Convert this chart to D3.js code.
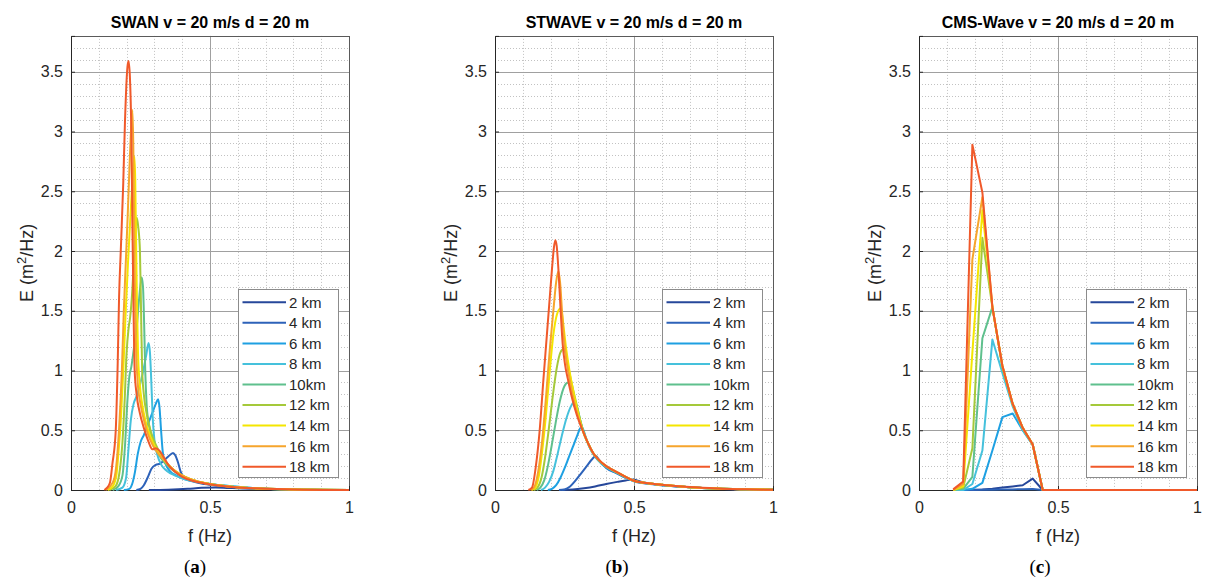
<!DOCTYPE html>
<html><head><meta charset="utf-8">
<script src="https://cdn.jsdelivr.net/npm/d3@7/dist/d3.min.js"></script>
<style>body{margin:0;background:#fff;}svg{display:block;}</style>
</head><body>
<svg id="chart" width="1207" height="578"></svg>
<script>
// ---------- data ----------
const seriesNames = ["2 km","4 km","6 km","8 km","10km","12 km","14 km","16 km","18 km"];
const panelTitles = ["SWAN v = 20 m/s d = 20 m","STWAVE v = 20 m/s d = 20 m","CMS-Wave v = 20 m/s d = 20 m"];
const panelLetters = ["a","b","c"];
const xTicks = [0, 0.5, 1];
const yTicks = [0, 0.5, 1, 1.5, 2, 2.5, 3, 3.5];
const xLabel = "f (Hz)";

// SWAN: [f, E]
const swan2 = [[0.28,0],[0.35,0.003],[0.42,0.01],[0.47,0.018],[0.52,0.02],[0.58,0.016],[0.66,0.01],[0.78,0.004],[1,0]];
const swan4 = [[0.235,0],[0.25,0.01],[0.262,0.04],[0.275,0.1],[0.29,0.18],[0.305,0.21],[0.32,0.22],[0.335,0.25],[0.35,0.28],[0.367,0.31],[0.375,0.29],[0.385,0.23],[0.395,0.15],[0.41,0.1],[0.44,0.07],[0.48,0.05],[0.53,0.035],[0.6,0.02],[0.7,0.01],[0.8,0.004],[1,0]];
const swan6 = [[0.19,0],[0.21,0.01],[0.22,0.05],[0.23,0.15],[0.24,0.3],[0.25,0.4],[0.262,0.46],[0.275,0.54],[0.29,0.63],[0.305,0.72],[0.313,0.76],[0.318,0.7],[0.324,0.5],[0.33,0.32],[0.34,0.22],[0.355,0.16],[0.38,0.12],[0.41,0.09],[0.45,0.07],[0.5,0.05],[0.55,0.037],[0.62,0.022],[0.7,0.011],[0.8,0.005],[1,0]];
const swan8 = [[0.162,0],[0.185,0.02],[0.198,0.1],[0.207,0.35],[0.215,0.58],[0.225,0.72],[0.235,0.78],[0.248,0.88],[0.26,1.0],[0.27,1.12],[0.279,1.23],[0.284,1.15],[0.289,0.9],[0.294,0.6],[0.3,0.42],[0.31,0.3],[0.325,0.21],[0.345,0.16],[0.375,0.12],[0.41,0.09],[0.45,0.07],[0.5,0.05],[0.55,0.037],[0.62,0.022],[0.7,0.011],[0.8,0.005],[1,0]];
const swan10 = [[0.15,0],[0.17,0.03],[0.185,0.12],[0.195,0.4],[0.203,0.75],[0.21,0.95],[0.217,1.03],[0.226,1.18],[0.236,1.35],[0.245,1.6],[0.254,1.78],[0.259,1.7],[0.263,1.4],[0.267,1.0],[0.272,0.72],[0.28,0.55],[0.295,0.42],[0.315,0.3],[0.34,0.22],[0.37,0.16],[0.4,0.12],[0.44,0.08],[0.5,0.05],[0.58,0.027],[0.68,0.012],[0.8,0.005],[1,0]];
const swan12 = [[0.138,0],[0.16,0.03],[0.174,0.14],[0.185,0.4],[0.193,0.75],[0.2,1.15],[0.207,1.35],[0.213,1.45],[0.22,1.65],[0.228,2.0],[0.236,2.28],[0.242,2.2],[0.248,2.0],[0.252,1.5],[0.256,1.0],[0.262,0.8],[0.272,0.64],[0.287,0.49],[0.305,0.38],[0.325,0.29],[0.35,0.21],[0.38,0.15],[0.41,0.11],[0.45,0.075],[0.5,0.05],[0.58,0.027],[0.68,0.012],[0.8,0.005],[1,0]];
const swan14 = [[0.132,0],[0.15,0.03],[0.163,0.12],[0.172,0.35],[0.18,0.62],[0.188,1.0],[0.196,1.45],[0.205,1.9],[0.214,2.3],[0.222,2.62],[0.228,2.79],[0.231,2.6],[0.234,2.1],[0.237,1.6],[0.241,1.15],[0.247,0.9],[0.256,0.72],[0.27,0.56],[0.287,0.44],[0.305,0.35],[0.325,0.28],[0.35,0.21],[0.38,0.15],[0.41,0.11],[0.45,0.075],[0.5,0.05],[0.58,0.027],[0.68,0.012],[0.8,0.005],[1,0]];
const swan16 = [[0.126,0],[0.14,0.03],[0.155,0.09],[0.165,0.25],[0.175,0.6],[0.183,1.0],[0.19,1.5],[0.197,1.9],[0.204,2.3],[0.212,2.8],[0.218,3.1],[0.221,3.18],[0.224,2.9],[0.227,2.3],[0.23,1.7],[0.234,1.2],[0.24,0.9],[0.25,0.72],[0.263,0.58],[0.278,0.46],[0.295,0.37],[0.315,0.3],[0.335,0.25],[0.355,0.2],[0.38,0.15],[0.41,0.11],[0.45,0.075],[0.5,0.05],[0.58,0.027],[0.68,0.012],[0.8,0.005],[1,0]];
const swan18 = [[0.12,0],[0.13,0.02],[0.14,0.06],[0.149,0.22],[0.161,0.5],[0.168,1.06],[0.173,1.62],[0.179,2.0],[0.188,2.57],[0.194,3.07],[0.203,3.54],[0.207,3.59],[0.212,3.45],[0.217,3.0],[0.221,2.2],[0.225,1.5],[0.229,1.0],[0.236,0.8],[0.248,0.64],[0.262,0.52],[0.278,0.41],[0.293,0.34],[0.305,0.35],[0.318,0.33],[0.332,0.28],[0.35,0.21],[0.375,0.15],[0.4,0.11],[0.44,0.075],[0.48,0.055],[0.56,0.03],[0.66,0.014],[0.8,0.005],[1,0]];

// STWAVE: [f, E]
const stw2 = [[0.24,0],[0.28,0.004],[0.32,0.015],[0.36,0.03],[0.4,0.05],[0.44,0.068],[0.47,0.08],[0.497,0.088],[0.51,0.08],[0.53,0.066],[0.56,0.054],[0.62,0.037],[0.7,0.022],[0.8,0.011],[0.9,0.005],[1,0.002]];
const stw4 = [[0.23,0],[0.25,0.005],[0.27,0.03],[0.29,0.08],[0.31,0.14],[0.33,0.2],[0.35,0.26],[0.363,0.285],[0.372,0.26],[0.385,0.22],[0.4,0.185],[0.438,0.14],[0.47,0.103],[0.5,0.073],[0.558,0.051],[0.62,0.036],[0.7,0.022],[0.8,0.011],[0.9,0.005],[1,0.002]];
const stw6 = [[0.19,0],[0.205,0.01],[0.22,0.04],[0.235,0.1],[0.25,0.18],[0.265,0.27],[0.28,0.36],[0.295,0.45],[0.311,0.53],[0.318,0.5],[0.328,0.43],[0.34,0.36],[0.355,0.295],[0.37,0.25],[0.4,0.188],[0.438,0.142],[0.47,0.104],[0.5,0.074],[0.558,0.052],[0.62,0.037],[0.7,0.023],[0.8,0.012],[0.9,0.005],[1,0.002]];
const stw8 = [[0.165,0],[0.18,0.02],[0.195,0.07],[0.21,0.16],[0.225,0.3],[0.24,0.45],[0.257,0.6],[0.273,0.7],[0.287,0.74],[0.293,0.71],[0.3,0.65],[0.31,0.55],[0.32,0.47],[0.335,0.385],[0.353,0.305],[0.37,0.255],[0.4,0.195],[0.438,0.147],[0.47,0.107],[0.5,0.076],[0.558,0.053],[0.62,0.038],[0.7,0.024],[0.8,0.012],[0.9,0.006],[1,0.002]];
const stw10 = [[0.15,0],[0.163,0.02],[0.177,0.08],[0.19,0.2],[0.203,0.36],[0.218,0.56],[0.233,0.74],[0.25,0.87],[0.263,0.9],[0.27,0.87],[0.279,0.81],[0.29,0.72],[0.302,0.62],[0.317,0.5],[0.335,0.39],[0.353,0.31],[0.37,0.258],[0.4,0.198],[0.438,0.148],[0.47,0.108],[0.5,0.077],[0.558,0.054],[0.62,0.039],[0.7,0.024],[0.8,0.012],[0.9,0.006],[1,0.002]];
const stw12 = [[0.14,0],[0.153,0.02],[0.167,0.1],[0.18,0.27],[0.193,0.5],[0.207,0.77],[0.222,1.02],[0.235,1.15],[0.247,1.18],[0.253,1.15],[0.259,1.09],[0.267,0.99],[0.277,0.88],[0.288,0.77],[0.3,0.65],[0.316,0.5],[0.335,0.39],[0.353,0.31],[0.37,0.258],[0.4,0.198],[0.438,0.149],[0.47,0.109],[0.5,0.077],[0.558,0.054],[0.62,0.039],[0.7,0.024],[0.8,0.012],[0.9,0.006],[1,0.002]];
const stw14 = [[0.133,0],[0.145,0.02],[0.158,0.12],[0.17,0.33],[0.183,0.62],[0.197,1.0],[0.21,1.3],[0.223,1.47],[0.236,1.52],[0.242,1.46],[0.248,1.34],[0.255,1.2],[0.263,1.07],[0.273,0.93],[0.284,0.8],[0.298,0.65],[0.315,0.5],[0.335,0.39],[0.353,0.31],[0.37,0.259],[0.4,0.199],[0.438,0.15],[0.47,0.11],[0.5,0.077],[0.558,0.054],[0.62,0.039],[0.7,0.024],[0.8,0.012],[0.9,0.006],[1,0.002]];
const stw16 = [[0.128,0],[0.14,0.02],[0.155,0.15],[0.17,0.42],[0.185,0.82],[0.198,1.2],[0.21,1.5],[0.22,1.74],[0.228,1.83],[0.234,1.74],[0.241,1.5],[0.248,1.27],[0.256,1.1],[0.266,0.96],[0.279,0.8],[0.296,0.64],[0.315,0.5],[0.335,0.39],[0.353,0.31],[0.37,0.26],[0.4,0.2],[0.438,0.15],[0.47,0.11],[0.5,0.077],[0.558,0.054],[0.62,0.039],[0.7,0.024],[0.8,0.012],[0.9,0.006],[1,0.002]];
const stw18 = [[0.12,0],[0.133,0.02],[0.147,0.2],[0.16,0.48],[0.174,0.92],[0.185,1.25],[0.195,1.55],[0.205,1.85],[0.212,2.03],[0.217,2.09],[0.222,2.04],[0.228,1.85],[0.235,1.55],[0.2435,1.22],[0.252,1.05],[0.262,0.93],[0.276,0.78],[0.294,0.63],[0.315,0.5],[0.335,0.39],[0.353,0.31],[0.37,0.26],[0.4,0.2],[0.438,0.15],[0.47,0.11],[0.5,0.078],[0.558,0.055],[0.62,0.04],[0.7,0.025],[0.8,0.013],[0.9,0.006],[1,0.002]];

// CMS-Wave: discrete frequencies, values per series
const cmsFreq = [0.123,0.159,0.192,0.228,0.264,0.300,0.337,0.373,0.409,0.445,1.0];
const cms2  = [0,0,0.002,0.005,0.01,0.02,0.03,0.04,0.095,0,0];
const cms4  = [0,0,0.001,0.002,0.003,0.004,0.005,0.006,0.008,0,0];
const cms6  = [0,0,0.01,0.06,0.33,0.61,0.64,0.5,0.38,0,0];
const cms8  = [0,0,0.05,0.33,1.26,0.98,0.7,0.5,0.38,0,0];
const cms10 = [0,0.01,0.11,1.27,1.53,1.03,0.72,0.52,0.38,0,0];
const cms12 = [0,0.02,0.35,2.11,1.53,1.03,0.72,0.52,0.38,0,0];
const cms14 = [0,0.03,1.15,2.34,1.53,1.04,0.72,0.52,0.38,0,0];
const cms16 = [0,0.05,1.93,2.45,1.53,1.04,0.72,0.52,0.38,0,0];
const cms18 = [0.005,0.07,2.89,2.49,1.53,1.04,0.72,0.52,0.38,0,0];

const swanSeries = [swan2,swan4,swan6,swan8,swan10,swan12,swan14,swan16,swan18];
const stwSeries = [stw2,stw4,stw6,stw8,stw10,stw12,stw14,stw16,stw18];
const cmsSeries = [cms2,cms4,cms6,cms8,cms10,cms12,cms14,cms16,cms18].map(v => v.map((e,i) => [cmsFreq[i], e]));

// ---------- styles ----------
const colors = ["#26479a","#2d62b9","#1ea0e2","#45c1dc","#5fc08d","#a5c93a","#f4e600","#f6a52c","#f0592a"];
const font = "'Liberation Sans', Arial, Helvetica, sans-serif";

const svg = d3.select("#chart");
svg.append("rect").attr("width",1207).attr("height",578).attr("fill","#fff");

const panelLefts = [71, 495, 919];
const pw = 278, plotTop = 35.9, plotBottom = 490;
const letterX = [195, 617, 1040];
const panels = [
  {data: swanSeries, curve: d3.curveMonotoneX},
  {data: stwSeries, curve: d3.curveMonotoneX},
  {data: cmsSeries, curve: d3.curveLinear}
];

panels.forEach((p, pi) => {
  const L = panelLefts[pi];
  const x = d3.scaleLinear().domain([0,1]).range([L, L+pw]);
  const y = d3.scaleLinear().domain([0,3.8]).range([plotBottom, plotTop]);
  const g = svg.append("g");

  // minor grid
  const xMinor = d3.range(1,10).map(i => i/10).filter(v => Math.abs(v-0.5) > 1e-6);
  const yMinor = d3.range(1,38).map(i => i/10).filter(v => Math.abs(v*2 - Math.round(v*2)) > 1e-6);
  g.selectAll(".xm").data(xMinor).join("line")
    .attr("x1", d => Math.round(x(d))+0.5).attr("x2", d => Math.round(x(d))+0.5)
    .attr("y1", plotTop).attr("y2", plotBottom)
    .attr("stroke","#c2c2c2").attr("stroke-width",1).attr("stroke-dasharray","1,2");
  g.selectAll(".ym").data(yMinor).join("line")
    .attr("y1", d => Math.round(y(d))+0.5).attr("y2", d => Math.round(y(d))+0.5)
    .attr("x1", L).attr("x2", L+pw)
    .attr("stroke","#c2c2c2").attr("stroke-width",1).attr("stroke-dasharray","1,2");
  // major grid
  g.selectAll(".xg").data(xTicks.slice(1,-1)).join("line")
    .attr("x1", d => Math.round(x(d))+0.5).attr("x2", d => Math.round(x(d))+0.5)
    .attr("y1", plotTop).attr("y2", plotBottom).attr("stroke","#a0a0a0");
  g.selectAll(".yg").data(yTicks.slice(1)).join("line")
    .attr("y1", d => Math.round(y(d))+0.5).attr("y2", d => Math.round(y(d))+0.5)
    .attr("x1", L).attr("x2", L+pw).attr("stroke","#a0a0a0");

  // box
  g.append("rect").attr("x", L+0.5).attr("y", Math.round(plotTop)+0.5)
    .attr("width", pw).attr("height", plotBottom - Math.round(plotTop))
    .attr("fill","none").attr("stroke","#5a5a5a");

  // axes (ticks + labels)
  const xAxis = d3.axisBottom(x).tickValues(xTicks).tickSize(-4).tickPadding(12).tickFormat(d3.format("~g"));
  const yAxis = d3.axisLeft(y).tickValues(yTicks).tickSize(-4).tickPadding(8).tickFormat(d3.format("~g"));
  const gx = g.append("g").attr("transform", `translate(0,${plotBottom})`).call(xAxis);
  const gy = g.append("g").attr("transform", `translate(${L},0)`).call(yAxis);
  [gx, gy].forEach(a => {
    a.select(".domain").attr("stroke","#262626");
    a.selectAll(".tick line").attr("stroke","#262626");
    a.selectAll(".tick text").attr("fill","#262626").style("font-family", font).style("font-size","16px");
  });

  // lines
  const line = d3.line().x(d => x(d[0])).y(d => y(d[1])).curve(p.curve);
  g.selectAll(".series").data(p.data).join("path")
    .attr("d", line).attr("fill","none")
    .attr("stroke", (d,i) => colors[i]).attr("stroke-width", 2)
    .attr("stroke-linejoin","round");

  // title
  g.append("text").attr("x", L+pw/2).attr("y", 28).attr("text-anchor","middle")
    .style("font-family", font).style("font-size","16px").style("font-weight","bold")
    .attr("fill","#000").text(panelTitles[pi]);
  // x label
  g.append("text").attr("x", L+pw/2).attr("y", 542).attr("text-anchor","middle")
    .style("font-family", font).style("font-size","18px").attr("fill","#262626").text(xLabel);
  // y label
  const yl = g.append("text").attr("transform", `translate(${L-38},${(plotTop+plotBottom)/2}) rotate(-90)`)
    .attr("text-anchor","middle").style("font-family", font).style("font-size","18px").attr("fill","#262626");
  yl.append("tspan").text("E (m");
  yl.append("tspan").attr("dy","-7").style("font-size","13px").text("2");
  yl.append("tspan").attr("dy","7").text("/Hz)");

  // legend
  const lx = L + 167, ly = 289;
  const lg = g.append("g");
  lg.append("rect").attr("x", lx+0.5).attr("y", ly+0.5).attr("width", 100).attr("height", 188)
    .attr("fill","#fff").attr("stroke","#8c8c8c");
  seriesNames.forEach((n, i) => {
    const yy = 302.3 + i*20.55;
    lg.append("line").attr("x1", lx+4.5).attr("x2", lx+48).attr("y1", yy).attr("y2", yy)
      .attr("stroke", colors[i]).attr("stroke-width", 2);
    lg.append("text").attr("x", lx+51).attr("y", yy).attr("dy","0.36em")
      .style("font-family", font).style("font-size","15px").attr("fill","#262626").text(n);
  });

  // sub caption
  const cap = svg.append("text").attr("x", letterX[pi]).attr("y", 573).attr("text-anchor","middle")
    .style("font-family","'Liberation Serif', 'Times New Roman', serif").style("font-size","19px").attr("fill","#000");
  cap.append("tspan").text("(");
  cap.append("tspan").style("font-weight","bold").text(panelLetters[pi]);
  cap.append("tspan").text(")");
});
</script>
</body></html>
